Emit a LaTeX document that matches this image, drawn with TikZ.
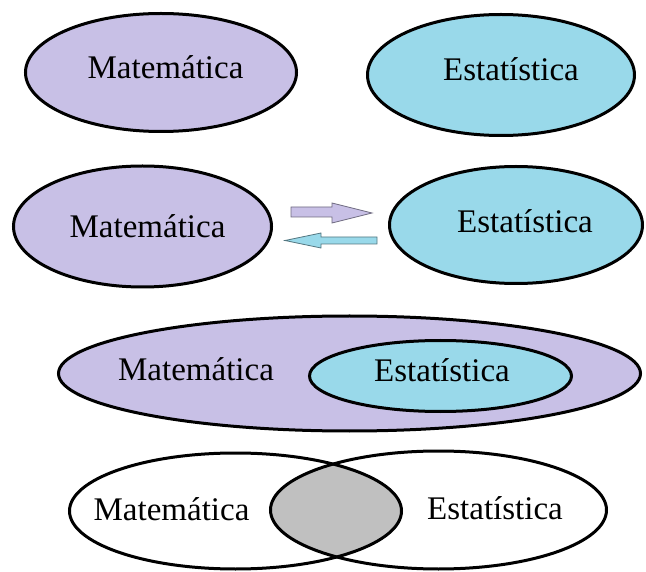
\documentclass[tikz,border=0pt]{standalone}
\usepackage{fontspec}
\setmainfont{Liberation Serif}
\usetikzlibrary{shapes.geometric}
\definecolor{lav}{HTML}{C8C0E6}
\definecolor{sky}{HTML}{99D9EA}
\definecolor{lens}{HTML}{C0C0C0}
\begin{document}
\begin{tikzpicture}[x=1pt,y=-1pt,
  oval/.style={ellipse, draw=black, line width=3pt, inner sep=0pt},
  lbl/.style={anchor=base, inner sep=0pt, font=\fontsize{33}{38}\selectfont},
  blockarrow/.style={line width=0.8pt}]
\useasboundingbox (0,0) rectangle (646,572);
% Row 1
\node[oval, fill=lav, minimum width=271pt, minimum height=118pt] (m1) at (161,72.5) {};
\node[oval, fill=sky, minimum width=267pt, minimum height=121pt] (e1) at (501,75) {};
\node[lbl] (tm1) at (165.5,79) {Matemática};
\node[lbl] (te1) at (511,81) {Estatística};
% Row 2
\node[oval, fill=lav, minimum width=258pt, minimum height=121pt] (m2) at (142.5,226.5) {};
\node[oval, fill=sky, minimum width=253pt, minimum height=117pt] (e2) at (516,225) {};
\node[lbl] (tm2) at (147.5,237.5) {Matemática};
\node[lbl] (te2) at (525,232.5) {Estatística};
\draw[blockarrow, fill=lav, draw=lav!55!black] (291,207) -- (332,207) -- (332,203) -- (372,213) -- (332,223) -- (332,217) -- (291,217) -- cycle;
\draw[blockarrow, fill=sky, draw=sky!55!black] (377,237) -- (321,237) -- (321,233) -- (285,240.5) -- (321,248) -- (321,244) -- (377,244) -- cycle;
% Row 3
\node[oval, fill=lav, minimum width=582pt, minimum height=115pt] (m3) at (349.5,373.5) {};
\node[oval, fill=sky, minimum width=262pt, minimum height=71pt] (e3) at (440.5,376) {};
\node[lbl] (tm3) at (196,380.5) {Matemática};
\node[lbl] (te3) at (442,381.5) {Estatística};
% Row 4
\begin{scope}
  \clip (235.5,511) ellipse [x radius=166pt, y radius=58pt];
  \fill[lens] (438.5,510) ellipse [x radius=168pt, y radius=59pt];
\end{scope}
\node[oval, minimum width=332pt, minimum height=116pt] (m4) at (235.5,511) {};
\node[oval, minimum width=336pt, minimum height=118pt] (e4) at (438.5,510) {};
\node[lbl] (tm4) at (171.5,520) {Matemática};
\node[lbl] (te4) at (495,519) {Estatística};
\end{tikzpicture}
\end{document}
